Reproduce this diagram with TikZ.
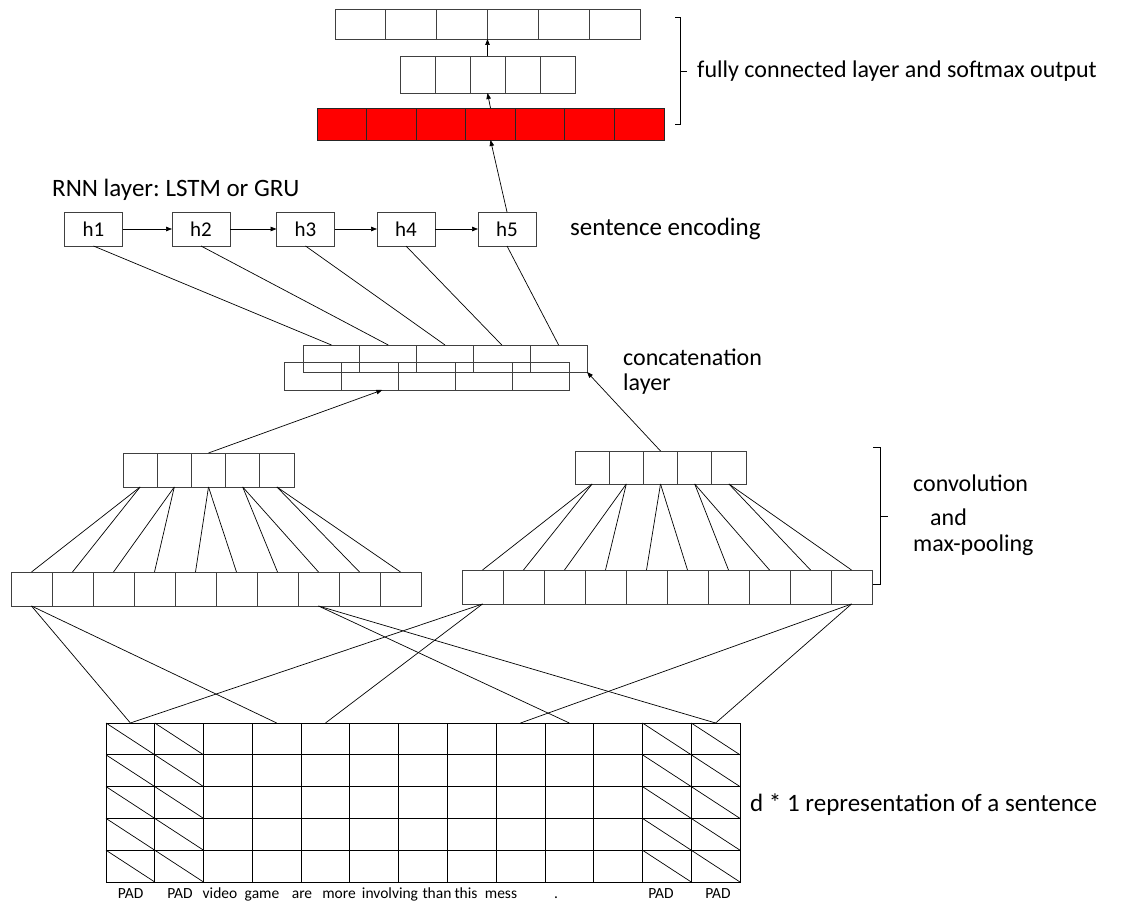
\documentclass[tikz,border=0pt]{standalone}
\usepackage{fontspec}
\setmainfont{Carlito}
\frenchspacing
\usetikzlibrary{arrows.meta,calc}

\begin{document}
\begin{tikzpicture}[x=1pt, y=-1pt,
        cell/.style={draw=black!75, line width=0.8pt, inner sep=0pt, outer sep=0pt},
        link/.style={line width=0.7pt},
        arr/.style={link, -{Triangle[length=6pt,width=4.5pt]}},
        lbl/.style={anchor=west, inner sep=0pt, font=\fontsize{24}{28}\selectfont},
        word/.style={anchor=base, inner sep=0pt, font=\fontsize{15.5}{18}\selectfont},
        hbox/.style={cell, minimum width=58pt, minimum height=34pt, font=\fontsize{21}{24}\selectfont}]
        \useasboundingbox (0,0) rectangle (1127,904);

        % 输出层
        \foreach \i in {1,...,6}
            \node[cell, minimum width=50.83pt, minimum height=30pt] (o\i) at ({335+(\i-0.5)*50.83}, 24) {};
        \foreach \i in {1,...,5}
            \node[cell, minimum width=35pt, minimum height=37pt] (f\i) at ({400+(\i-0.5)*35}, 74.5) {};
        \fill[red] (317,108) rectangle (664,140);
        \foreach \i in {1,...,7}
            \node[cell, draw=black!85, minimum width=49.57pt, minimum height=32pt] (r\i) at ({317+(\i-0.5)*49.57}, 124) {};
        \draw[arr] (f3.north) -- (o3.south east);
        \draw[arr] (r4.north) -- (f3.south);

        % 括号
        \draw[link] (675,17) -- (680,17) -- (680,124) -- (675,124);
        \draw[link] (680,71) -- (687,71);
        \node[lbl] (fclbl) at (697,71) {fully connected layer and softmax output};

        % RNN
        \node[lbl, font=\fontsize{25}{29}\selectfont] (rnnlbl) at (52,190) {RNN layer: LSTM or GRU};
        \node[hbox] (h1) at (93.5,229) {h1};
        \node[hbox] (h2) at (201,229) {h2};
        \node[hbox] (h3) at (305.5,229) {h3};
        \node[hbox] (h4) at (406,229) {h4};
        \node[hbox] (h5) at (507,229) {h5};
        \foreach \i/\j in {1/2, 2/3, 3/4, 4/5}
            \draw[arr] (h\i.east) -- (h\j.west);
        \draw[arr] (h5.north) -- (r4.south);
        \node[lbl, font=\fontsize{25}{29}\selectfont] (enclbl) at (570,229) {sentence encoding};

        % 拼接层
        \foreach \i in {1,...,5} {
            \node[cell, minimum width=56.8pt, minimum height=27pt] (ct\i) at ({303+(\i-0.5)*56.8}, 358.5) {};
            \node[cell, minimum width=57pt, minimum height=28pt] (cb\i) at ({284+(\i-0.5)*57}, 376) {};
            \draw[link] (h\i.south) -- (ct\i.north);
        }
        \node[lbl] (catlbl) at (623,357) {concatenation};
        \node[lbl] (catlbl2) at (623,384) {layer};

        % 卷积与池化
        \foreach \i in {1,...,5} {
            \node[cell, minimum width=34.2pt, minimum height=34pt] (lp\i) at ({123+(\i-0.5)*34.2}, 470) {};
            \node[cell, minimum width=34.2pt, minimum height=33pt] (rp\i) at ({575+(\i-0.5)*34.2}, 467.5) {};
        }
        \foreach \i in {1,...,10} {
            \node[cell, minimum width=41pt, minimum height=34pt] (lc\i) at ({11+(\i-0.5)*41}, 589) {};
            \node[cell, minimum width=41pt, minimum height=34pt] (rc\i) at ({462+(\i-0.5)*41}, 587) {};
        }
        \foreach \i in {1,...,5} {
            \pgfmathtruncatemacro\a{2*\i-1}
            \pgfmathtruncatemacro\b{2*\i}
            \draw[link] (lp\i.south) -- (lc\a.north);
            \draw[link] (lp\i.south) -- (lc\b.north);
            \draw[link] (rp\i.south) -- (rc\a.north);
            \draw[link] (rp\i.south) -- (rc\b.north);
        }
        \draw[arr] (lp3.north) -- ($(cb2.south)!.45!(cb2.south east)$);
        \draw[arr] (rp3.north) -- (ct5.south east);

        \draw[link] (873,447) -- (880,447) -- (880,584) -- (873,584);
        \draw[link] (880,516) -- (888,516);
        \node[lbl] (cvlbl) at (913,483) {convolution};
        \node[lbl] (cvlbl2) at (930,517) {and};
        \node[lbl] (cvlbl3) at (913,545) {max-pooling};

        % 句子矩阵
        \foreach \r in {1,...,5} {
            \foreach \c in {1,...,13} {
                \node[cell, draw=black, minimum width=48.77pt, minimum height=31.8pt] (g-\r-\c) at ({106+(\c-0.5)*48.77}, {723+(\r-0.5)*31.8}) {};
            }
            \foreach \c in {1,2,12,13}
                \draw[link] (g-\r-\c.north west) -- (g-\r-\c.south east);
        }
        \draw[link] (lc1.south) -- (g-1-1.north);
        \draw[link] (lc1.south) -- (g-1-4.north);
        \draw[link] (lc8.south) -- (g-1-10.north);
        \draw[link] (lc8.south) -- (g-1-13.north);
        \draw[link] (rc1.south) -- (g-1-1.north);
        \draw[link] (rc1.south) -- (g-1-5.north);
        \draw[link] (rc10.south) -- (g-1-9.north);
        \draw[link] (rc10.south) -- (g-1-13.north);
        \node[lbl, font=\fontsize{25}{29}\selectfont] (replbl) at (750,805) {d * 1 representation of a sentence};

        \foreach \x/\w [count=\k] in {130.6/PAD, 180/PAD, 220/video, 262/game, 302/are, 339/more, 390/involving, 437/than, 466/this, 501/mess, 556/., 661/PAD, 718/PAD}
            \node[word] (w\k) at (\x,898) {\w};
\end{tikzpicture}
\end{document}
